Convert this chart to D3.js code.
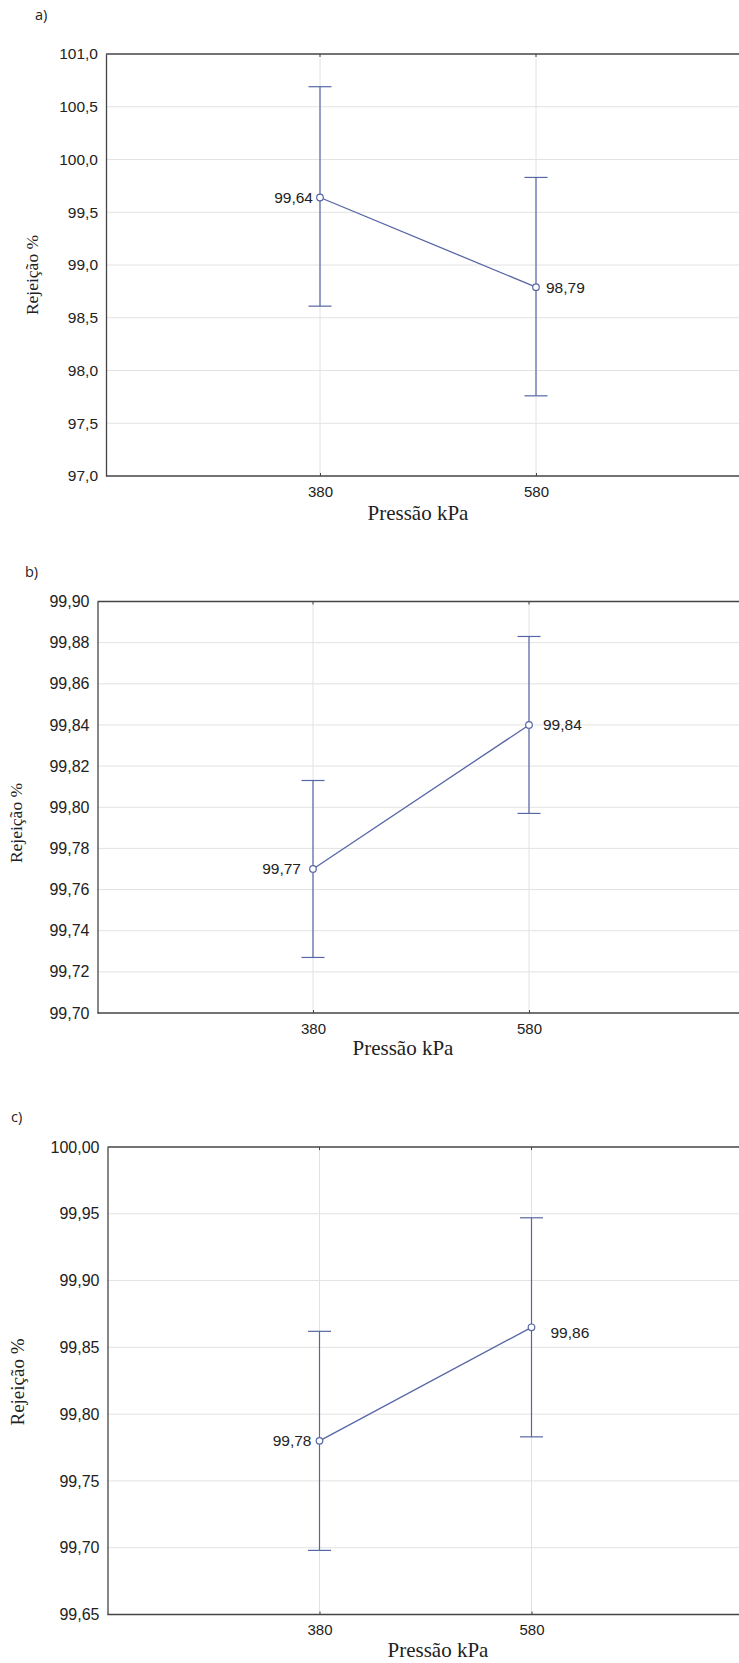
<!DOCTYPE html>
<html>
<head>
<meta charset="utf-8">
<script src="https://cdn.jsdelivr.net/npm/d3@7"></script>
<style>
  html, body { margin: 0; padding: 0; background: #fff; }
  svg { display: block; }
</style>
</head>
<body>
<svg id="chart" width="739" height="1663"></svg>
<script>
// ---------- DATA ----------
const pressures = [380, 580];
const xTickLabels = ["380", "580"];

const panelLabels = ["a)", "b)", "c)"];

const meansA = [99.64, 98.79];
const upperA = [100.69, 99.83];
const lowerA = [98.61, 97.76];
const labelsA = ["99,64", "98,79"];
const yTicksA = [97.0, 97.5, 98.0, 98.5, 99.0, 99.5, 100.0, 100.5, 101.0];

const meansB = [99.77, 99.84];
const upperB = [99.813, 99.883];
const lowerB = [99.727, 99.797];
const labelsB = ["99,77", "99,84"];
const yTicksB = [99.70, 99.72, 99.74, 99.76, 99.78, 99.80, 99.82, 99.84, 99.86, 99.88, 99.90];

const meansC = [99.78, 99.865];
const upperC = [99.862, 99.947];
const lowerC = [99.698, 99.783];
const labelsC = ["99,78", "99,86"];
const yTicksC = [99.65, 99.70, 99.75, 99.80, 99.85, 99.90, 99.95, 100.00];

const xTitle = "Pressão kPa";
const yTitle = "Rejeição %";

// ---------- LAYOUT ----------
const panels = [
  { tag: panelLabels[0], tagX: 35, tagY: 20, left: 106, top: 54, bottom: 476, x380: 320, x580: 536,
    means: meansA, upper: upperA, lower: lowerA, labels: labelsA, ticks: yTicksA, dec: 1,
    tickFont: 15.5, labGap: [7, 10], labDy: [0, 0],
    yTitleX: 38, yTitleY: 275, yTitleFont: 17.5, xTitleX: 418, xTitleY: 520 },
  { tag: panelLabels[1], tagX: 25, tagY: 577, left: 97.5, top: 601.5, bottom: 1013, x380: 313, x580: 529,
    means: meansB, upper: upperB, lower: lowerB, labels: labelsB, ticks: yTicksB, dec: 2,
    tickFont: 16, labGap: [12, 14], labDy: [0, 0],
    yTitleX: 22, yTitleY: 823, yTitleFont: 17.5, xTitleX: 403, xTitleY: 1055 },
  { tag: panelLabels[2], tagX: 11, tagY: 1122, left: 107.5, top: 1147, bottom: 1614.5, x380: 319.5, x580: 531.5,
    means: meansC, upper: upperC, lower: lowerC, labels: labelsC, ticks: yTicksC, dec: 2,
    tickFont: 16, labGap: [8, 19], labDy: [0, 5],
    yTitleX: 24, yTitleY: 1382, yTitleFont: 19, xTitleX: 438, xTitleY: 1657 }
];

const svg = d3.select("#chart");
const lineColor = "#5766a5";
const gridColor = "#e2e2e2";
const axisColor = "#454545";
const W = 739;

panels.forEach(p => {
  const g = svg.append("g");
  const x = d3.scaleLinear()
    .domain([pressures[0], pressures[1]])
    .range([p.x380, p.x580]);
  const right = W + 10;
  const y = d3.scaleLinear()
    .domain([p.ticks[0], p.ticks[p.ticks.length - 1]])
    .range([p.bottom, p.top]);

  const fmt = v => v.toFixed(p.dec).replace(".", ",");

  // panel tag
  g.append("text")
    .attr("x", p.tagX).attr("y", p.tagY)
    .attr("font-family", "Open Sans, Liberation Sans, sans-serif")
    .attr("font-size", 14.5).attr("fill", "#222")
    .text(p.tag);

  // horizontal gridlines
  g.append("g").selectAll("line").data(p.ticks.slice(1, -1)).join("line")
    .attr("x1", p.left).attr("x2", right)
    .attr("y1", d => y(d)).attr("y2", d => y(d))
    .attr("stroke", gridColor).attr("stroke-width", 1);

  // vertical gridlines
  g.append("g").selectAll("line").data(pressures).join("line")
    .attr("x1", d => x(d)).attr("x2", d => x(d))
    .attr("y1", p.top).attr("y2", p.bottom)
    .attr("stroke", gridColor).attr("stroke-width", 1);

  // Y axis
  const yAxis = d3.axisLeft(y).tickValues(p.ticks).tickFormat(fmt).tickSize(0).tickPadding(8);
  const ya = g.append("g").attr("transform", `translate(${p.left},0)`).call(yAxis);
  ya.select(".domain").attr("stroke", axisColor).attr("stroke-width", 1.3);
  ya.selectAll("text")
    .attr("font-family", "Liberation Sans, Arial, sans-serif")
    .attr("font-size", p.tickFont).attr("fill", "#222");

  // X axis
  const xAxis = d3.axisBottom(x).tickValues(pressures)
    .tickFormat((d, i) => xTickLabels[i]).tickSize(3).tickPadding(7);
  const xa = g.append("g").attr("transform", `translate(0,${p.bottom})`).call(xAxis);
  xa.select(".domain").remove();
  xa.selectAll(".tick line").attr("stroke", axisColor).attr("y2", -3);
  xa.selectAll("text")
    .attr("font-family", "Liberation Sans, Arial, sans-serif")
    .attr("font-size", 15).attr("fill", "#222");
  g.append("line").attr("x1", p.left).attr("x2", right)
    .attr("y1", p.bottom).attr("y2", p.bottom)
    .attr("stroke", axisColor).attr("stroke-width", 1.3);

  // top border with small ticks
  g.append("line").attr("x1", p.left).attr("x2", right)
    .attr("y1", p.top).attr("y2", p.top)
    .attr("stroke", axisColor).attr("stroke-width", 1.3);
  g.append("g").selectAll("line").data(pressures).join("line")
    .attr("x1", d => x(d)).attr("x2", d => x(d))
    .attr("y1", p.top).attr("y2", p.top + 3)
    .attr("stroke", axisColor);

  // error bars
  const eb = g.append("g").attr("stroke", lineColor).attr("stroke-width", 1.2).attr("fill", "none");
  pressures.forEach((pr, i) => {
    const cx = x(pr);
    eb.append("line").attr("x1", cx).attr("x2", cx)
      .attr("y1", y(p.upper[i])).attr("y2", y(p.lower[i]));
    eb.append("line").attr("x1", cx - 11.5).attr("x2", cx + 11.5)
      .attr("y1", y(p.upper[i])).attr("y2", y(p.upper[i]));
    eb.append("line").attr("x1", cx - 11.5).attr("x2", cx + 11.5)
      .attr("y1", y(p.lower[i])).attr("y2", y(p.lower[i]));
  });

  // mean line
  const line = d3.line().x((d, i) => x(pressures[i])).y(d => y(d));
  g.append("path").datum(p.means).attr("d", line)
    .attr("fill", "none").attr("stroke", lineColor).attr("stroke-width", 1.3);

  // markers
  g.append("g").selectAll("circle").data(p.means).join("circle")
    .attr("cx", (d, i) => x(pressures[i])).attr("cy", d => y(d)).attr("r", 3.3)
    .attr("fill", "#fff").attr("stroke", lineColor).attr("stroke-width", 1.2);

  // value labels: left for the first point, right for the second
  g.append("g").selectAll("text").data(p.means).join("text")
    .attr("x", (d, i) => x(pressures[i]) + (i === 0 ? -p.labGap[0] : p.labGap[1]))
    .attr("y", (d, i) => y(d) + 5.5 + p.labDy[i])
    .attr("text-anchor", (d, i) => i === 0 ? "end" : "start")
    .attr("font-family", "Liberation Sans, Arial, sans-serif")
    .attr("font-size", 15.5).attr("fill", "#222")
    .text((d, i) => p.labels[i]);

  // axis titles
  g.append("text")
    .attr("x", p.xTitleX).attr("y", p.xTitleY)
    .attr("text-anchor", "middle")
    .attr("font-family", "Liberation Serif, Times New Roman, serif")
    .attr("font-size", 21).attr("fill", "#222")
    .text(xTitle);
  g.append("text")
    .attr("transform", `translate(${p.yTitleX},${p.yTitleY}) rotate(-90)`)
    .attr("text-anchor", "middle")
    .attr("font-family", "Liberation Serif, Times New Roman, serif")
    .attr("font-size", p.yTitleFont).attr("fill", "#222")
    .text(yTitle);
});
</script>
</body>
</html>
